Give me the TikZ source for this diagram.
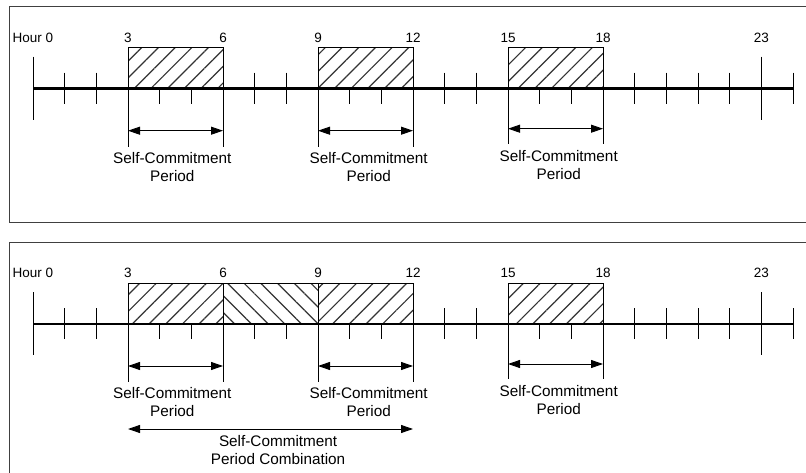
\documentclass[tikz,border=0pt]{standalone}
\usepackage{fontspec}
\setmainfont{Liberation Sans}
\usepackage{tikz}
\usetikzlibrary{arrows.meta,patterns.meta,positioning}

\tikzset{
  panel/.style={draw=black!75, line width=1pt},
  axisline/.style={line width=2.6pt},
  hourtick/.style={line width=0.9pt},
  hatchfwd/.style={draw, line width=0.9pt, preaction={fill=white},
    pattern={Lines[angle=45,distance=11.8pt,line width=1.2pt]}, pattern color=black!80},
  hatchbwd/.style={draw, line width=0.9pt, preaction={fill=white},
    pattern={Lines[angle=-45,distance=11.8pt,line width=1.2pt]}, pattern color=black!80},
  spanarrow/.style={line width=0.9pt, {Triangle[length=12pt,width=8pt]}-{Triangle[length=12pt,width=8pt]}},
  hourlbl/.style={font=\fontsize{13.5}{15}\selectfont, inner sep=0pt},
  desclbl/.style={align=center, font=\fontsize{15.3}{18}\selectfont, inner sep=0pt}
}

\begin{document}
\begin{tikzpicture}[x=1pt, y=-1pt]
  \useasboundingbox (0,0) rectangle (806,473);

  % panel frames
  \draw[panel] (806,7) -- (9,7) -- (9,222.7) -- (806,222.7);
  \draw[panel] (806,242.7) -- (9,242.7) -- (9,474);

  % top panel: three separate periods
  \begin{scope}[shift={(33,88.7)}, x=31.667pt, y=-1pt]
    \draw[hatchfwd] (3,-41.4) rectangle (6,0);
    \draw[hatchfwd] (9,-41.4) rectangle (12,0);
    \draw[hatchfwd] (15,-41.4) rectangle (18,0);
    % ticks
    \foreach \h in {1,2,7,8,13,14,19,20,21,22,24}
      \draw[hourtick] (\h,-16) -- (\h,15);
    \foreach \h in {4,5,10,11,16,17}
      \draw[hourtick] (\h,0) -- (\h,15);
    \foreach \h in {3,6,9,12}
      \draw[hourtick] (\h,0) -- (\h,58);
    \foreach \h in {15,18}
      \draw[hourtick] (\h,0) -- (\h,55);
    \draw[hourtick] (0,-32) -- (0,31);
    \draw[hourtick] (23,-32) -- (23,31);
    \draw[axisline] (0,0) -- (24,0);
    % hour labels
    \node[hourlbl] (tl0) at (0,-51) {Hour 0};
    \foreach \h in {3,6,9,12,15,18,23}
      \node[hourlbl] (tl\h) at (\h,-51) {\h};
    % periods
    \coordinate (ta3) at (3,42);
    \coordinate (ta6) at (6,42);
    \coordinate (ta9) at (9,42);
    \coordinate (ta12) at (12,42);
    \coordinate (ta15) at (15,40);
    \coordinate (ta18) at (18,40);
    \draw[spanarrow] (ta3) -- (ta6);
    \draw[spanarrow] (ta9) -- (ta12);
    \draw[spanarrow] (ta15) -- (ta18);
    \node[desclbl] (td1) at (4.4,78) {Self-Commitment\\Period};
    \node[desclbl] (td2) at (10.6,78) {Self-Commitment\\Period};
    \node[desclbl] (td3) at (16.6,76) {Self-Commitment\\Period};
  \end{scope}

  % bottom panel: periods 3-6 and 9-12 combined
  \begin{scope}[shift={(33,324)}, x=31.667pt, y=-1pt]
    \draw[hatchfwd] (3,-41) rectangle (6,0);
    \draw[hatchbwd] (6,-41) rectangle (9,0);
    \draw[hatchfwd] (9,-41) rectangle (12,0);
    \draw[hatchfwd] (15,-41) rectangle (18,0);
    % ticks
    \foreach \h in {1,2,13,14,19,20,21,22,24}
      \draw[hourtick] (\h,-16) -- (\h,15);
    \foreach \h in {4,5,7,8,10,11,16,17}
      \draw[hourtick] (\h,0) -- (\h,15);
    \foreach \h in {3,6,9,12}
      \draw[hourtick] (\h,0) -- (\h,58);
    \foreach \h in {15,18}
      \draw[hourtick] (\h,0) -- (\h,55);
    \draw[hourtick] (0,-32) -- (0,31);
    \draw[hourtick] (23,-32) -- (23,31);
    \draw[axisline] (0,0) -- (24,0);
    % hour labels
    \node[hourlbl] (bl0) at (0,-51) {Hour 0};
    \foreach \h in {3,6,9,12,15,18,23}
      \node[hourlbl] (bl\h) at (\h,-51) {\h};
    % periods
    \coordinate (ba3) at (3,42);
    \coordinate (ba6) at (6,42);
    \coordinate (ba9) at (9,42);
    \coordinate (ba12) at (12,42);
    \coordinate (ba15) at (15,40);
    \coordinate (ba18) at (18,40);
    \draw[spanarrow] (ba3) -- (ba6);
    \draw[spanarrow] (ba9) -- (ba12);
    \draw[spanarrow] (ba15) -- (ba18);
    \node[desclbl] (bd1) at (4.4,78) {Self-Commitment\\Period};
    \node[desclbl] (bd2) at (10.6,78) {Self-Commitment\\Period};
    \node[desclbl] (bd3) at (16.6,76) {Self-Commitment\\Period};
    % combination
    \coordinate (bc3) at (3,105);
    \coordinate (bc12) at (12,105);
    \draw[spanarrow] (bc3) -- (bc12);
    \node[desclbl] (bd4) at (7.74,126) {Self-Commitment\\Period Combination};
  \end{scope}
\end{tikzpicture}
\end{document}
